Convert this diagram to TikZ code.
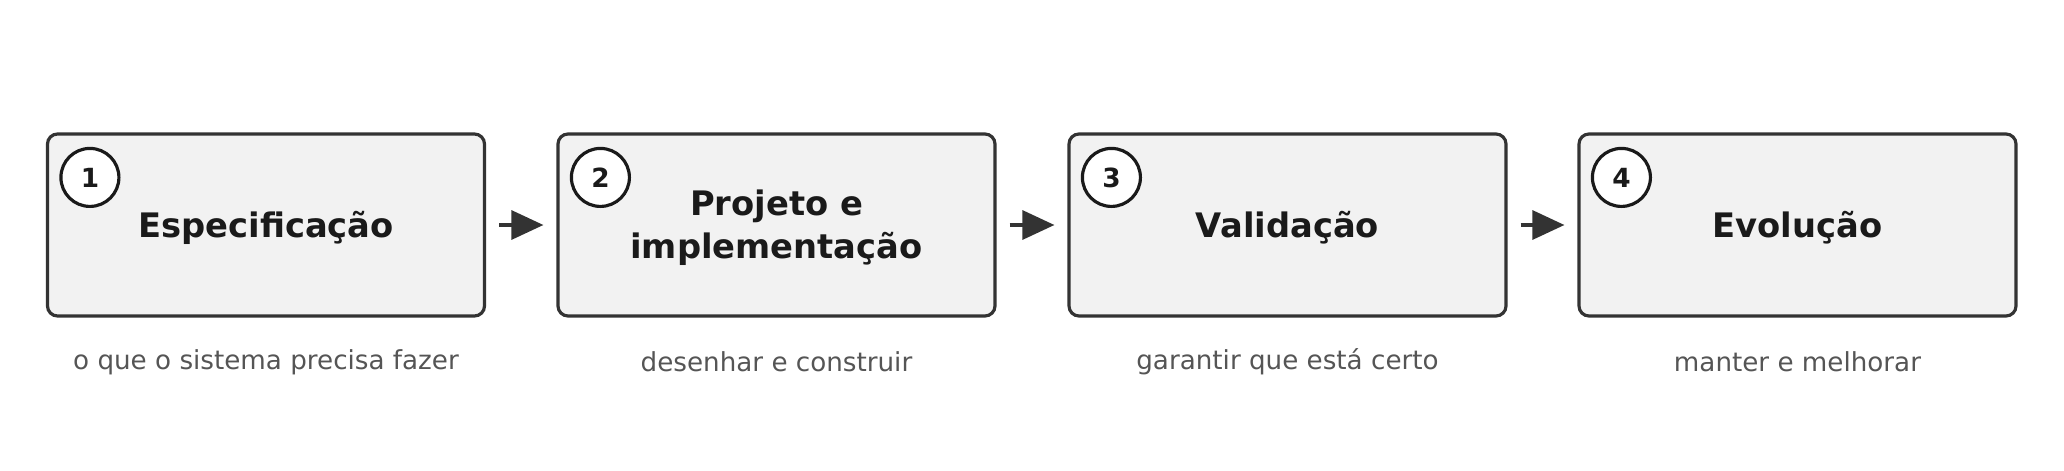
\documentclass[tikz,border=0pt]{standalone}
\usepackage{fontspec}
\setmainfont{DejaVu Sans}
\usepackage{tikz}
\usetikzlibrary{arrows.meta, positioning, calc}
\definecolor{caixa}{HTML}{F2F2F2}
\definecolor{borda}{HTML}{333333}
\definecolor{texto}{HTML}{1A1A1A}
\definecolor{legenda}{HTML}{555555}
\newcommand{\titulo}[1]{\raisebox{-0.03cm}[\height][\depth]{#1}}

\begin{document}
\begin{tikzpicture}[
            etapa/.style={rectangle, rounded corners=0.1cm, draw=borda, line width=0.9pt, fill=caixa, minimum width=4.37cm, minimum height=1.82cm, align=center, text=texto, font=\fontsize{9.6}{12.3}\selectfont\bfseries},
            num/.style={circle, draw=texto, line width=0.9pt, fill=white, minimum size=0.58cm, inner sep=0pt, text=texto, font=\fontsize{7.5}{9}\selectfont\bfseries},
            legenda/.style={text=legenda, font=\fontsize{7.45}{9}\selectfont},
            seta/.style={-{Triangle[length=0.32cm, width=0.29cm]}, draw=borda, line width=0.9pt, shorten <=0.13cm, shorten >=0.13cm}]

            \useasboundingbox (0,0) rectangle (20.64,4.70);

            \node[etapa] (espec) at (2.66,2.45) {\titulo{Especificação}};
            \node[etapa] (proj) at (7.765,2.45) {\titulo{Projeto e}\\\titulo{implementação}};
            \node[etapa] (valid) at (12.875,2.45) {\titulo{Validação}};
            \node[etapa] (evol) at (17.975,2.45) {\titulo{Evolução}};

            % numeros das etapas
            \node[num] (n1) at ($(espec.north west)+(0.44,-0.45)$) {1};
            \node[num] (n2) at ($(proj.north west)+(0.44,-0.45)$) {2};
            \node[num] (n3) at ($(valid.north west)+(0.44,-0.45)$) {3};
            \node[num] (n4) at ($(evol.north west)+(0.44,-0.45)$) {4};

            \node[legenda] (l1) at (2.66,1.08) {o que o sistema precisa fazer};
            \node[legenda] (l2) at (7.765,1.08) {desenhar e construir};
            \node[legenda] (l3) at (12.875,1.08) {garantir que está certo};
            \node[legenda] (l4) at (17.975,1.08) {manter e melhorar};

            \draw[seta] (espec) -- (proj);
            \draw[seta] (proj) -- (valid);
            \draw[seta] (valid) -- (evol);
        \end{tikzpicture}
\end{document}
